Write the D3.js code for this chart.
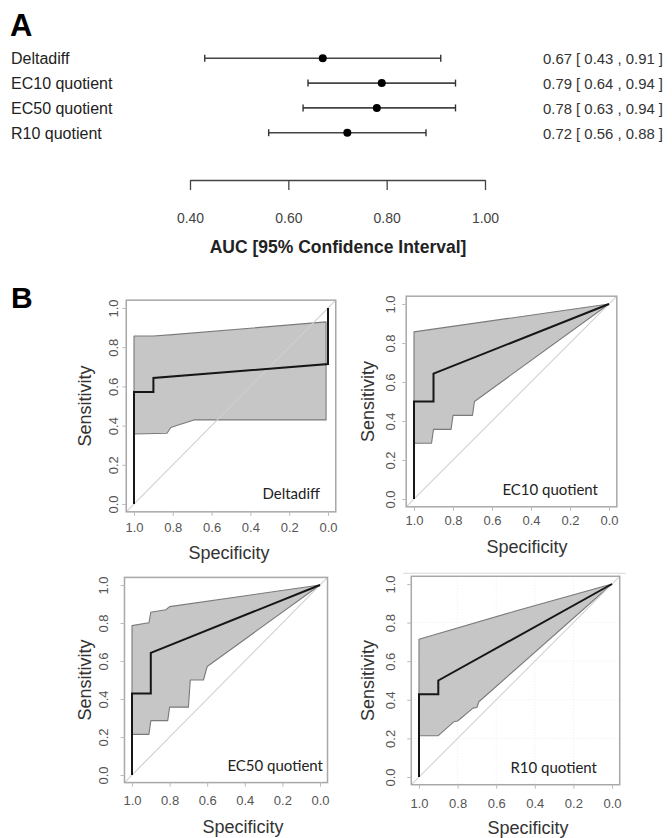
<!DOCTYPE html>
<html>
<head>
<meta charset="utf-8">
<script src="https://cdn.jsdelivr.net/npm/d3@7/dist/d3.min.js"></script>
<style>
  html, body { margin: 0; padding: 0; background: #fff; }
  svg { display: block; }
</style>
</head>
<body>
<svg id="fig" width="672" height="838"></svg>
<script>
// ---- Panel A: AUC estimates with 95% confidence intervals ----
const forestLabels = ["Deltadiff", "EC10 quotient", "EC50 quotient", "R10 quotient"];
const aucEstimate = [0.67, 0.79, 0.78, 0.72];
const ciLower = [0.43, 0.64, 0.63, 0.56];
const ciUpper = [0.91, 0.94, 0.94, 0.88];
const aucTicks = [0.40, 0.60, 0.80, 1.00];

// ---- Panel B: ROC curves (specificity, sensitivity) and CI bands ----
const rocTicks = [1.0, 0.8, 0.6, 0.4, 0.2, 0.0];
const sensTicks = [0.0, 0.2, 0.4, 0.6, 0.8, 1.0];

const deltadiffSp = [1, 1, 0.9, 0.9, 0, 0];
const deltadiffSe = [0, 0.571, 0.571, 0.643, 0.714, 1];
const deltadiffHiSp = [1, 0.9, 0.8, 0.01];
const deltadiffHiSe = [0.857, 0.857, 0.864, 0.929];
const deltadiffLoSp = [0.01, 0.69, 0.78, 0.81, 0.83, 1];
const deltadiffLoSe = [0.429, 0.429, 0.40, 0.39, 0.361, 0.357];

const ec10Sp = [1, 1, 0.9, 0.9, 0];
const ec10Se = [0, 0.5, 0.5, 0.643, 1];
const ec10HiSp = [1, 0];
const ec10HiSe = [0.857, 1];
const ec10LoSp = [0, 0.69, 0.7, 0.8, 0.81, 0.9, 0.91, 1];
const ec10LoSe = [1, 0.5, 0.429, 0.429, 0.357, 0.357, 0.286, 0.286];

const ec50Sp = [1, 1, 0.9, 0.9, 0];
const ec50Se = [0, 0.429, 0.429, 0.643, 1];
const ec50HiSp = [1, 0.92, 0.91, 0.9, 0.82, 0.8, 0];
const ec50HiSe = [0.786, 0.80, 0.80, 0.857, 0.87, 0.886, 1];
const ec50LoSp = [0, 0.6, 0.62, 0.69, 0.7, 0.8, 0.81, 0.9, 0.91, 1];
const ec50LoSe = [1, 0.571, 0.5, 0.5, 0.357, 0.357, 0.286, 0.286, 0.214, 0.214];

const r10Sp = [1, 1, 0.9, 0.9, 0];
const r10Se = [0, 0.429, 0.429, 0.5, 1];
const r10HiSp = [1, 0.5, 0];
const r10HiSe = [0.714, 0.86, 1];
const r10LoSp = [0, 0.69, 0.7, 0.72, 0.8, 0.82, 0.9, 1];
const r10LoSe = [1, 0.39, 0.36, 0.357, 0.29, 0.286, 0.214, 0.214];

const rocNames = ["Deltadiff", "EC10 quotient", "EC50 quotient", "R10 quotient"];
const rocCurves = [
  {sp: deltadiffSp, se: deltadiffSe, hiSp: deltadiffHiSp, hiSe: deltadiffHiSe, loSp: deltadiffLoSp, loSe: deltadiffLoSe},
  {sp: ec10Sp, se: ec10Se, hiSp: ec10HiSp, hiSe: ec10HiSe, loSp: ec10LoSp, loSe: ec10LoSe},
  {sp: ec50Sp, se: ec50Se, hiSp: ec50HiSp, hiSe: ec50HiSe, loSp: ec50LoSp, loSe: ec50LoSe},
  {sp: r10Sp, se: r10Se, hiSp: r10HiSp, hiSe: r10HiSe, loSp: r10LoSp, loSe: r10LoSe}
];

// Layout of the four ROC panels (pixel frame of the unit square)
const panelLayout = [
  {x1: 134, x0: 328, yTop: 308, yBot: 504, yLabX: 113, xLabY: 532, sensX: 85, specX: 229, specY: 559, tagX: 320, tagY: 499},
  {x1: 414, x0: 609, yTop: 304, yBot: 499, yLabX: 390, xLabY: 525, sensX: 368, specX: 527, specY: 553, tagX: 598, tagY: 495},
  {x1: 132, x0: 320, yTop: 585, yBot: 775, yLabX: 103, xLabY: 805, sensX: 85, specX: 243, specY: 833, tagX: 323, tagY: 771},
  {x1: 419, x0: 612, yTop: 584, yBot: 777, yLabX: 390, xLabY: 808, sensX: 368, specX: 528, specY: 834, tagX: 597, tagY: 773, grid: true, topRule: true}
];

const svg = d3.select("#fig");
const sans = "'Liberation Sans', Arial, Helvetica, sans-serif";

// ================= Panel A =================
svg.append("text").attr("x", 10).attr("y", 36)
  .attr("font-family", sans).attr("font-weight", "bold").attr("font-size", 31)
  .attr("fill", "#000").text("A");

const xAuc = d3.scaleLinear().domain([0.4, 1.0]).range([190, 485]);
const yRow = d3.scalePoint().domain(forestLabels).range([58.3, 132.7]);

const rows = svg.append("g").selectAll("g").data(forestLabels).join("g")
  .attr("transform", d => `translate(0,${yRow(d)})`);

rows.append("text").attr("x", 11).attr("y", 5.8)
  .attr("font-family", sans).attr("font-size", 16).attr("fill", "#222")
  .text(d => d);

rows.append("line")
  .attr("x1", (d, i) => xAuc(ciLower[i])).attr("x2", (d, i) => xAuc(ciUpper[i]))
  .attr("stroke", "#444").attr("stroke-width", 1.6);
rows.append("line")
  .attr("x1", (d, i) => xAuc(ciLower[i])).attr("x2", (d, i) => xAuc(ciLower[i]))
  .attr("y1", -3.5).attr("y2", 3.5).attr("stroke", "#333").attr("stroke-width", 1.4);
rows.append("line")
  .attr("x1", (d, i) => xAuc(ciUpper[i])).attr("x2", (d, i) => xAuc(ciUpper[i]))
  .attr("y1", -3.5).attr("y2", 3.5).attr("stroke", "#333").attr("stroke-width", 1.4);
rows.append("circle")
  .attr("cx", (d, i) => xAuc(aucEstimate[i])).attr("r", 4).attr("fill", "#000");

const fmt2 = d3.format(".2f");
rows.append("text").attr("x", 543).attr("y", 5.8)
  .attr("font-family", sans).attr("font-size", 15.5).attr("fill", "#333")
  .attr("textLength", 120).attr("lengthAdjust", "spacingAndGlyphs")
  .text((d, i) => `${fmt2(aucEstimate[i])} [ ${fmt2(ciLower[i])} , ${fmt2(ciUpper[i])} ]`);

// AUC axis (ticks point downward from the rule)
const aucAxis = svg.append("g").attr("transform", "translate(0,180)")
  .call(d3.axisBottom(xAuc).tickValues(aucTicks).tickFormat(fmt2)
    .tickSize(-10).tickSizeOuter(0).tickPadding(0));
aucAxis.select(".domain").attr("stroke", "#444").attr("stroke-width", 1.3);
aucAxis.selectAll(".tick line").attr("stroke", "#444").attr("stroke-width", 1.3)
  .attr("y1", 0).attr("y2", 10);
aucAxis.selectAll(".tick text").attr("y", 43).attr("dy", 0)
  .attr("font-family", sans).attr("font-size", 14).attr("fill", "#444");

svg.append("text").attr("x", 338).attr("y", 253).attr("text-anchor", "middle")
  .attr("font-family", sans).attr("font-weight", "bold").attr("font-size", 17.5)
  .attr("fill", "#222").text("AUC [95% Confidence Interval]");

// ================= Panel B =================
svg.append("text").attr("x", 11).attr("y", 308)
  .attr("font-family", sans).attr("font-weight", "bold").attr("font-size", 30)
  .attr("fill", "#000").text("B");

rocCurves.forEach((c, k) => {
  const L = panelLayout[k];
  const x = d3.scaleLinear().domain([1, 0]).range([L.x1, L.x0]);
  const y = d3.scaleLinear().domain([0, 1]).range([L.yBot, L.yTop]);
  const g = svg.append("g");
  const bx0 = x(1.04), bx1 = x(-0.04), by0 = y(1.04), by1 = y(-0.04);
  const clipId = "clip" + k;
  g.append("clipPath").attr("id", clipId)
    .append("rect").attr("x", bx0).attr("y", by0).attr("width", bx1 - bx0).attr("height", by1 - by0);

  if (L.topRule) {
    g.append("line").attr("x1", bx0 - 8).attr("x2", bx1 + 6).attr("y1", by0 - 3).attr("y2", by0 - 3)
      .attr("stroke", "#d8d8d8").attr("stroke-width", 1);
  }

  if (L.grid) {
    const gv = [0.8, 0.6, 0.4, 0.2];
    g.append("g").selectAll("line.v").data(gv).join("line")
      .attr("x1", d => x(d)).attr("x2", d => x(d)).attr("y1", by0).attr("y2", by1)
      .attr("stroke", "#ececec").attr("stroke-dasharray", "1,2");
    g.append("g").selectAll("line.h").data([0.2, 0.4, 0.6, 0.8]).join("line")
      .attr("x1", bx0).attr("x2", bx1).attr("y1", d => y(d)).attr("y2", d => y(d))
      .attr("stroke", "#ececec").attr("stroke-dasharray", "1,2");
  }

  // confidence band
  const band = c.hiSp.map((s, i) => [x(s), y(c.hiSe[i])])
    .concat(c.loSp.map((s, i) => [x(s), y(c.loSe[i])]));
  g.append("path").attr("d", d3.line()(band) + "Z")
    .attr("fill", "#c6c6c6").attr("stroke", "#7a7a7a").attr("stroke-width", 1.1)
    .attr("stroke-linejoin", "round");

  // chance diagonal
  g.append("line").attr("clip-path", `url(#${clipId})`)
    .attr("x1", x(1.04)).attr("y1", y(-0.04)).attr("x2", x(-0.04)).attr("y2", y(1.04))
    .attr("stroke", "#d0d0d0").attr("stroke-width", 1.1);

  // ROC curve
  const pts = c.sp.map((s, i) => [x(s), y(c.se[i])]);
  g.append("path").attr("d", d3.line()(pts))
    .attr("fill", "none").attr("stroke", "#161616").attr("stroke-width", 2);

  // frame
  g.append("rect").attr("x", bx0).attr("y", by0).attr("width", bx1 - bx0).attr("height", by1 - by0)
    .attr("fill", "none").attr("stroke", "#a8a8a8").attr("stroke-width", 1.5);

  // axes ticks and labels
  const xa = g.append("g").attr("transform", `translate(0,${by1})`)
    .call(d3.axisBottom(x).tickValues(rocTicks).tickFormat(d3.format(".1f")).tickSize(4).tickSizeOuter(0));
  xa.select(".domain").remove();
  xa.selectAll(".tick line").attr("stroke", "#bbb");
  xa.selectAll(".tick text").attr("y", L.xLabY - by1).attr("dy", 0)
    .attr("font-family", sans).attr("font-size", 13).attr("fill", "#555");

  const ya = g.append("g").attr("transform", `translate(${bx0},0)`)
    .call(d3.axisLeft(y).tickValues(sensTicks).tickFormat(d3.format(".1f")).tickSize(4).tickSizeOuter(0));
  ya.select(".domain").remove();
  ya.selectAll(".tick line").attr("stroke", "#bbb");
  ya.selectAll(".tick text").attr("x", 0).attr("dy", 0)
    .attr("text-anchor", "middle")
    .attr("transform", `translate(${L.yLabX - bx0 + 5},0) rotate(-90)`)
    .attr("font-family", sans).attr("font-size", 13).attr("fill", "#555");

  g.append("text").attr("text-anchor", "middle")
    .attr("transform", `translate(${L.sensX + 6},${(by0 + by1) / 2}) rotate(-90)`)
    .attr("font-family", sans).attr("font-size", 18).attr("fill", "#333").text("Sensitivity");
  g.append("text").attr("x", L.specX).attr("y", L.specY).attr("text-anchor", "middle")
    .attr("font-family", sans).attr("font-size", 18).attr("fill", "#333").text("Specificity");

  g.append("text").attr("x", L.tagX).attr("y", L.tagY).attr("text-anchor", "end")
    .attr("font-family", "Lato, 'Open Sans', sans-serif").attr("font-size", 15).attr("fill", "#222")
    .text(rocNames[k]);
});
</script>
</body>
</html>
